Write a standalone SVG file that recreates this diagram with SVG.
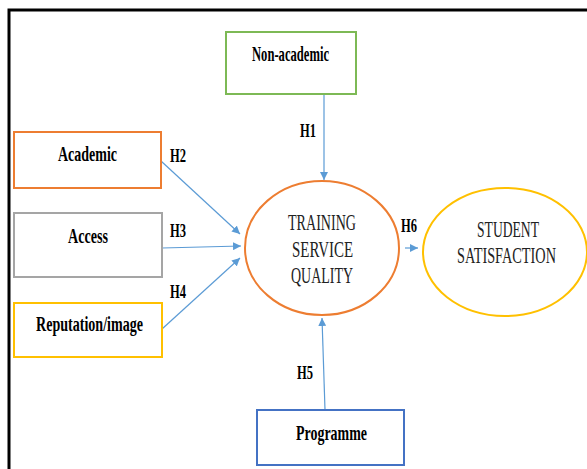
<svg xmlns="http://www.w3.org/2000/svg" width="587" height="469" viewBox="0 0 587 469">
<style>
.box{fill:#fff;stroke-width:2}
.lbl{font-weight:bold;font-size:21px;fill:#000}
.h{font-weight:bold;font-size:18px;fill:#000}
.el{font-size:23px;fill:#222}
.c{fill:none;stroke:#5B9BD5;stroke-width:1.2}
</style>
<defs>
<marker id="ah" viewBox="0 0 10 10" refX="10" refY="5" markerWidth="8" markerHeight="8" markerUnits="userSpaceOnUse" orient="auto">
<path d="M0,0 L10,5 L0,10 z" fill="#5B9BD5"/>
</marker>
</defs>
<rect x="0" y="0" width="587" height="469" fill="#fff"/>
<rect x="9" y="10" width="600" height="480" fill="none" stroke="#000" stroke-width="3"/>
<g font-family="Liberation Serif">
<g id="connectors">
<line class="c" x1="324" y1="94" x2="324" y2="180" marker-end="url(#ah)"/>
<line class="c" x1="161" y1="161" x2="240" y2="234" marker-end="url(#ah)"/>
<line class="c" x1="162" y1="248" x2="241" y2="246" marker-end="url(#ah)"/>
<line class="c" x1="162" y1="329" x2="240" y2="258" marker-end="url(#ah)"/>
<line class="c" x1="405" y1="248" x2="418" y2="248" marker-end="url(#ah)"/>
<line class="c" x1="325" y1="410" x2="322" y2="318" marker-end="url(#ah)"/>
<text class="h" font-family="Liberation Serif" x="300" y="137" textLength="16" lengthAdjust="spacingAndGlyphs">H1</text>
<text class="h" font-family="Liberation Serif" x="170" y="162" textLength="16" lengthAdjust="spacingAndGlyphs">H2</text>
<text class="h" font-family="Liberation Serif" x="170" y="237" textLength="16" lengthAdjust="spacingAndGlyphs">H3</text>
<text class="h" font-family="Liberation Serif" x="170" y="298" textLength="16" lengthAdjust="spacingAndGlyphs">H4</text>
<text class="h" font-family="Liberation Serif" x="297" y="379" textLength="16" lengthAdjust="spacingAndGlyphs">H5</text>
<text class="h" font-family="Liberation Serif" x="401" y="232" textLength="16" lengthAdjust="spacingAndGlyphs">H6</text>
</g>
<g id="nonacademic">
<rect class="box" x="226" y="32" width="130" height="62" stroke="#7DB955"/>
<text class="lbl" font-family="Liberation Serif" x="252" y="61" textLength="77" lengthAdjust="spacingAndGlyphs">Non-academic</text>
</g>
<g id="academic">
<rect class="box" x="14" y="132" width="147" height="56" stroke="#ED7D31"/>
<text class="lbl" font-family="Liberation Serif" x="58" y="161" textLength="59" lengthAdjust="spacingAndGlyphs">Academic</text>
</g>
<g id="access">
<rect class="box" x="14" y="213" width="148" height="64" stroke="#A5A5A5"/>
<text class="lbl" font-family="Liberation Serif" x="68" y="243" textLength="40" lengthAdjust="spacingAndGlyphs">Access</text>
</g>
<g id="reputation">
<rect class="box" x="14" y="303" width="148" height="54" stroke="#FFC000"/>
<text class="lbl" font-family="Liberation Serif" x="36" y="331" textLength="107" lengthAdjust="spacingAndGlyphs">Reputation/image</text>
</g>
<g id="programme">
<rect class="box" x="257" y="410" width="147" height="55" stroke="#4472C4"/>
<text class="lbl" font-family="Liberation Serif" x="296" y="440" textLength="71" lengthAdjust="spacingAndGlyphs">Programme</text>
</g>
<g id="tsq">
<ellipse cx="322" cy="248" rx="77" ry="67" fill="#fff" stroke="#ED7D31" stroke-width="2"/>
<text class="el" font-family="Liberation Serif" x="288" y="230" textLength="68" lengthAdjust="spacingAndGlyphs">TRAINING</text>
<text class="el" font-family="Liberation Serif" x="292" y="257" textLength="61" lengthAdjust="spacingAndGlyphs">SERVICE</text>
<text class="el" font-family="Liberation Serif" x="291" y="283" textLength="62" lengthAdjust="spacingAndGlyphs">QUALITY</text>
</g>
<g id="satisfaction">
<ellipse cx="505" cy="252" rx="82" ry="64" fill="#fff" stroke="#FFC000" stroke-width="2"/>
<text class="el" font-family="Liberation Serif" x="477" y="237" textLength="62" lengthAdjust="spacingAndGlyphs">STUDENT</text>
<text class="el" font-family="Liberation Serif" x="457" y="263" textLength="99" lengthAdjust="spacingAndGlyphs">SATISFACTION</text>
</g>
</g>
</svg>
